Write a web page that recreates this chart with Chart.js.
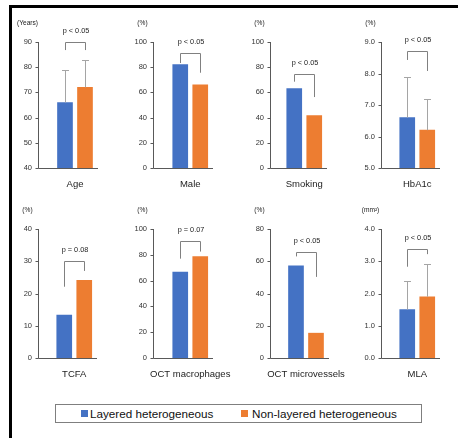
<!DOCTYPE html>
<html lang="en">
<head>
<meta charset="UTF-8" />
<title>Layered vs non-layered heterogeneous</title>
<script src="https://cdn.jsdelivr.net/npm/chart.js"></script>
<style>
  body { margin: 0; background: #fff; font-family: "Liberation Sans", Arial, sans-serif; }
  #wrap { position: relative; width: 458px; height: 438px; overflow: hidden; background: #fff; }
  #wrap canvas { position: absolute; }
  .frame-top { position: absolute; left: 9px; top: 5px; width: 449px; height: 3px; background: #000; }
  .frame-left { position: absolute; left: 9px; top: 5px; width: 3px; height: 433px; background: #000; }
  .legend { position: absolute; left: 55px; top: 404px; width: 367px; height: 19px;
            box-sizing: border-box; border: 1px solid #7f7f7f; background: #fff; }
  .legend span { position: absolute; top: 0; line-height: 17px; font-size: 11.7px; color: #111; white-space: nowrap; }
  .legend i { position: absolute; top: 5px; width: 7px; height: 7px; }
</style>
</head>
<body>
<div id="wrap">
  <div class="frame-top"></div>
  <div class="frame-left"></div>
  <div class="legend">
    <i style="left:25px;background:#4472c4"></i><span style="left:34px">Layered heterogeneous</span>
    <i style="left:185px;background:#ed7d31"></i><span style="left:196px">Non-layered heterogeneous</span>
  </div>
</div>

<script>
  // Data
  const categories = ['Age', 'Male', 'Smoking', 'HbA1c', 'TCFA', 'OCT macrophages', 'OCT microvessels', 'MLA'];
  const units = ['(Years)', '(%)', '(%)', '(%)', '(%)', '(%)', '(%)', '(mm\u00b2)'];
  const layered = [66, 82, 63, 6.6, 13.3, 66.7, 57.1, 1.5];
  const nonLayered = [72, 66, 41.7, 6.2, 24.1, 78.6, 15.4, 1.9];
  const layeredSD = [13, null, null, 1.3, null, null, null, 0.9];
  const nonLayeredSD = [11, null, null, 1.0, null, null, null, 1.0];
  const yMin = [40, 0, 0, 5, 0, 0, 0, 0];
  const yMax = [90, 100, 100, 9, 40, 100, 80, 4];
  const yStep = [10, 20, 20, 1, 10, 20, 20, 1];
  const yDecimals = [0, 0, 0, 1, 0, 0, 0, 1];
  const pLabels = ['p < 0.05', 'p < 0.05', 'p < 0.05', 'p < 0.05', 'p = 0.08', 'p = 0.07', 'p < 0.05', 'p < 0.05'];
  // bracket: top line, left leg end, right leg end (axis units)
  const bracketTop = [90.1, 91.5, 74.6, 8.72, 30.1, 90.5, 65.7, 3.38];
  const bracketLeft = [86.8, 83.3, 68.5, 8.43, 22.1, 77.0, 63.0, 2.83];
  const bracketRight = [86.8, 75.6, 56.3, 8.08, 27.0, 82.5, 50.3, 3.22];

  // Layout of the 2 x 4 panels
  const axisX = [38, 153, 270, 381, 38, 153, 270, 381];
  const barCenter = [75, 190.5, 304.5, 417.5, 74.5, 190.5, 306, 417.5];
  const rowTop = [42, 42, 42, 42, 229, 229, 229, 229];
  const rowBottom = [168, 168, 168, 168, 358, 358, 358, 358];
  const HALF = 23, TOP = 42, BELOW = 30, PADR = 40;
  const FONT = '"Liberation Sans", Arial, sans-serif';

  const decor = {
    id: 'decor',
    afterDraw(chart) {
      const { index: i, gap } = chart.options.plugins.decor;
      const { ctx, chartArea: a } = chart;
      const y = chart.scales.y;
      const ax = Math.round(a.left - gap) + 0.5;
      const by = Math.round(a.bottom) + 0.5;
      ctx.save();
      ctx.lineWidth = 1;

      // axes
      ctx.strokeStyle = '#595959';
      ctx.beginPath();
      ctx.moveTo(ax, a.top);
      ctx.lineTo(ax, by);
      ctx.lineTo(a.right, by);
      y.ticks.forEach(t => {
        const py = Math.round(y.getPixelForValue(t.value)) + 0.5;
        ctx.moveTo(ax - 3, py);
        ctx.lineTo(ax, py);
      });
      ctx.stroke();

      // error bars (upper half)
      const bars = [0, 1].map(d => chart.getDatasetMeta(d).data[0]);
      const vals = [layered[i], nonLayered[i]];
      const sds = [layeredSD[i], nonLayeredSD[i]];
      ctx.strokeStyle = '#a5a5a5';
      bars.forEach((b, d) => {
        if (sds[d] == null) return;
        const x = Math.round(b.x) + 0.5;
        const top = Math.round(y.getPixelForValue(vals[d] + sds[d])) + 0.5;
        ctx.beginPath();
        ctx.moveTo(x, b.y);
        ctx.lineTo(x, top);
        ctx.moveTo(x - 3.5, top);
        ctx.lineTo(x + 3.5, top);
        ctx.stroke();
      });

      // significance bracket
      const x1 = Math.round(bars[0].x) + 0.5;
      const x2 = Math.round(bars[1].x) + 0.5;
      const t = Math.round(y.getPixelForValue(bracketTop[i])) + 0.5;
      ctx.strokeStyle = '#808080';
      ctx.beginPath();
      ctx.moveTo(x1, y.getPixelForValue(bracketLeft[i]));
      ctx.lineTo(x1, t);
      ctx.lineTo(x2, t);
      ctx.lineTo(x2, y.getPixelForValue(bracketRight[i]));
      ctx.stroke();

      ctx.fillStyle = '#222';
      ctx.textAlign = 'center';
      ctx.textBaseline = 'middle';
      ctx.font = '7.3px ' + FONT;
      ctx.fillText(pLabels[i], (x1 + x2) / 2 + 0.5, t - 12);

      // unit label
      ctx.font = '6.6px ' + FONT;
      ctx.fillText(units[i], ax - 11, a.top - 19);

      // category label under the bars
      const xs = chart.scales.x;
      ctx.font = '9.5px ' + FONT;
      ctx.fillText(chart.data.labels[0], xs.getPixelForValue(0), a.bottom + 16);
      ctx.restore();
    }
  };

  const wrap = document.getElementById('wrap');

  categories.forEach((cat, i) => {
    const left = axisX[i] - 38;
    const top = rowTop[i] - TOP;
    const width = barCenter[i] + HALF + PADR - left;
    const height = TOP + (rowBottom[i] - rowTop[i]) + BELOW;
    const yWidth = barCenter[i] - HALF - left;
    const gap = yWidth - 38;

    const cv = document.createElement('canvas');
    cv.width = width;
    cv.height = height;
    cv.style.left = left + 'px';
    cv.style.top = top + 'px';
    wrap.appendChild(cv);

    new Chart(cv, {
      type: 'bar',
      data: {
        labels: [cat],
        datasets: [
          { label: 'Layered heterogeneous', data: [layered[i]], backgroundColor: '#4472c4',
            barThickness: 20, maxBarThickness: 15 },
          { label: 'Non-layered heterogeneous', data: [nonLayered[i]], backgroundColor: '#ed7d31',
            barThickness: 20, maxBarThickness: 15 }
        ]
      },
      options: {
        responsive: false,
        animation: false,
        layout: { padding: { top: TOP, right: PADR, left: 0, bottom: 0 } },
        plugins: {
          legend: { display: false },
          tooltip: { enabled: false },
          decor: { index: i, gap: gap }
        },
        scales: {
          x: {
            offset: true,
            grid: { display: false, drawTicks: false },
            border: { display: false },
            ticks: { display: false },
            afterFit: s => { s.height = BELOW; }
          },
          y: {
            min: yMin[i],
            max: yMax[i],
            grid: { display: false, drawTicks: false },
            border: { display: false },
            ticks: {
              stepSize: yStep[i],
              color: '#333',
              padding: gap + 6,
              font: { family: FONT, size: 7.5 },
              callback: v => Number(v).toFixed(yDecimals[i])
            },
            afterFit: s => { s.width = yWidth; }
          }
        }
      },
      plugins: [decor]
    });
  });
</script>
</body>
</html>
